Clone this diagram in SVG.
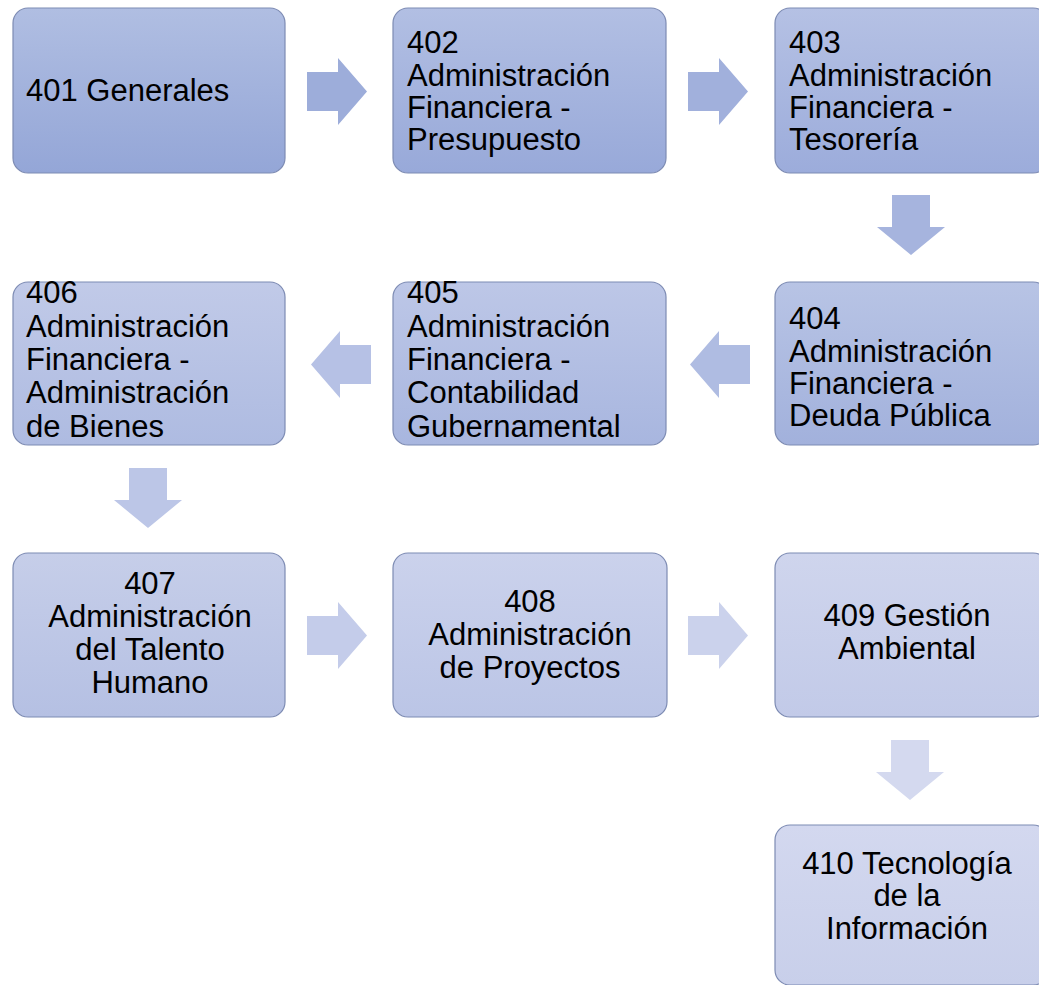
<svg xmlns="http://www.w3.org/2000/svg" width="1039" height="985" viewBox="0 0 1039 985">
<defs>
<style>
.box{stroke:#7d8bb3;stroke-width:1.2}
.t{font-family:"Liberation Sans",Arial,sans-serif;font-size:31px;fill:#000}
.c{text-anchor:middle}
</style>
<linearGradient id="g1" x1="0" y1="0" x2="0" y2="1"><stop offset="0" stop-color="#b0bee2"/><stop offset="1" stop-color="#94a6d7"/></linearGradient>
<linearGradient id="g2" x1="0" y1="0" x2="0" y2="1"><stop offset="0" stop-color="#b2bfe3"/><stop offset="1" stop-color="#98a9d9"/></linearGradient>
<linearGradient id="g3" x1="0" y1="0" x2="0" y2="1"><stop offset="0" stop-color="#b5c1e4"/><stop offset="1" stop-color="#9cacdb"/></linearGradient>
<linearGradient id="g4" x1="0" y1="0" x2="0" y2="1"><stop offset="0" stop-color="#b8c4e5"/><stop offset="1" stop-color="#a2b1dc"/></linearGradient>
<linearGradient id="g5" x1="0" y1="0" x2="0" y2="1"><stop offset="0" stop-color="#bdc7e7"/><stop offset="1" stop-color="#a8b6df"/></linearGradient>
<linearGradient id="g6" x1="0" y1="0" x2="0" y2="1"><stop offset="0" stop-color="#c1cae8"/><stop offset="1" stop-color="#aebbe1"/></linearGradient>
<linearGradient id="g7" x1="0" y1="0" x2="0" y2="1"><stop offset="0" stop-color="#c6cee9"/><stop offset="1" stop-color="#b5c0e3"/></linearGradient>
<linearGradient id="g8" x1="0" y1="0" x2="0" y2="1"><stop offset="0" stop-color="#cbd2ec"/><stop offset="1" stop-color="#bbc5e6"/></linearGradient>
<linearGradient id="g9" x1="0" y1="0" x2="0" y2="1"><stop offset="0" stop-color="#cfd5ed"/><stop offset="1" stop-color="#c2cae8"/></linearGradient>
<linearGradient id="g10" x1="0" y1="0" x2="0" y2="1"><stop offset="0" stop-color="#d3d8ef"/><stop offset="1" stop-color="#c8cfea"/></linearGradient>
<path id="ar" d="M0,14 H31 V0 L60,33.5 L31,67 V53 H0 Z"/>
<path id="al" d="M60,14 H29 V0 L0,33.5 L29,67 V53 H60 Z"/>
<path id="ad" d="M15,0 H53 V32 H68 L34,60 L0,32 H15 Z"/>
</defs>
<rect width="1039" height="985" fill="#ffffff"/>

<g id="connectors">
<use href="#ar" x="307" y="58" fill="#9dadda"/>
<use href="#ar" x="688" y="58" fill="#a1b0dc"/>
<use href="#ad" x="877" y="195" fill="#a6b4de"/>
<use href="#al" x="690" y="331" fill="#afbce2"/>
<use href="#al" x="311" y="331" fill="#b6c1e5"/>
<use href="#ad" x="114" y="468" fill="#bcc6e7"/>
<use href="#ar" x="307" y="602" fill="#c4ccea"/>
<use href="#ar" x="688" y="602" fill="#cbd2ec"/>
<use href="#ad" x="876" y="740" fill="#d4d9ef"/>
</g>

<g id="n401">
<rect class="box" x="13" y="8" width="272" height="165" rx="15" fill="url(#g1)"/>
<text class="t" x="26" y="101">401 Generales</text>
</g>
<g id="n402">
<rect class="box" x="393" y="8" width="273" height="165" rx="15" fill="url(#g2)"/>
<text class="t" x="407"><tspan x="407" y="53">402</tspan><tspan x="407" y="86">Administración</tspan><tspan x="407" y="118">Financiera -</tspan><tspan x="407" y="150">Presupuesto</tspan></text>
</g>
<g id="n403">
<rect class="box" x="775" y="8" width="273" height="165" rx="15" fill="url(#g3)"/>
<text class="t" x="789"><tspan x="789" y="53">403</tspan><tspan x="789" y="86">Administración</tspan><tspan x="789" y="118">Financiera -</tspan><tspan x="789" y="150">Tesorería</tspan></text>
</g>
<g id="n404">
<rect class="box" x="775" y="282" width="273" height="163" rx="15" fill="url(#g4)"/>
<text class="t"><tspan x="789" y="329">404</tspan><tspan x="789" y="362">Administración</tspan><tspan x="789" y="394">Financiera -</tspan><tspan x="789" y="426">Deuda Pública</tspan></text>
</g>
<g id="n405">
<rect class="box" x="393" y="282" width="273" height="163" rx="15" fill="url(#g5)"/>
<text class="t"><tspan x="407" y="303">405</tspan><tspan x="407" y="337">Administración</tspan><tspan x="407" y="370">Financiera -</tspan><tspan x="407" y="403">Contabilidad</tspan><tspan x="407" y="437">Gubernamental</tspan></text>
</g>
<g id="n406">
<rect class="box" x="13" y="282" width="272" height="163" rx="15" fill="url(#g6)"/>
<text class="t"><tspan x="26" y="303">406</tspan><tspan x="26" y="337">Administración</tspan><tspan x="26" y="370">Financiera -</tspan><tspan x="26" y="403">Administración</tspan><tspan x="26" y="437">de Bienes</tspan></text>
</g>
<g id="n407">
<rect class="box" x="13" y="553" width="272" height="164" rx="15" fill="url(#g7)"/>
<text class="t c"><tspan x="150" y="594">407</tspan><tspan x="150" y="627">Administración</tspan><tspan x="150" y="660">del Talento</tspan><tspan x="150" y="693">Humano</tspan></text>
</g>
<g id="n408">
<rect class="box" x="393" y="553" width="274" height="164" rx="15" fill="url(#g8)"/>
<text class="t c"><tspan x="530" y="612">408</tspan><tspan x="530" y="645">Administración</tspan><tspan x="530" y="678">de Proyectos</tspan></text>
</g>
<g id="n409">
<rect class="box" x="775" y="553" width="273" height="164" rx="15" fill="url(#g9)"/>
<text class="t c"><tspan x="907" y="626">409 Gestión</tspan><tspan x="907" y="659">Ambiental</tspan></text>
</g>
<g id="n410">
<rect class="box" x="775" y="825" width="273" height="160" rx="15" fill="url(#g10)"/>
<text class="t c"><tspan x="907" y="874">410 Tecnología</tspan><tspan x="907" y="906">de la</tspan><tspan x="907" y="939">Información</tspan></text>
</g>
</svg>
